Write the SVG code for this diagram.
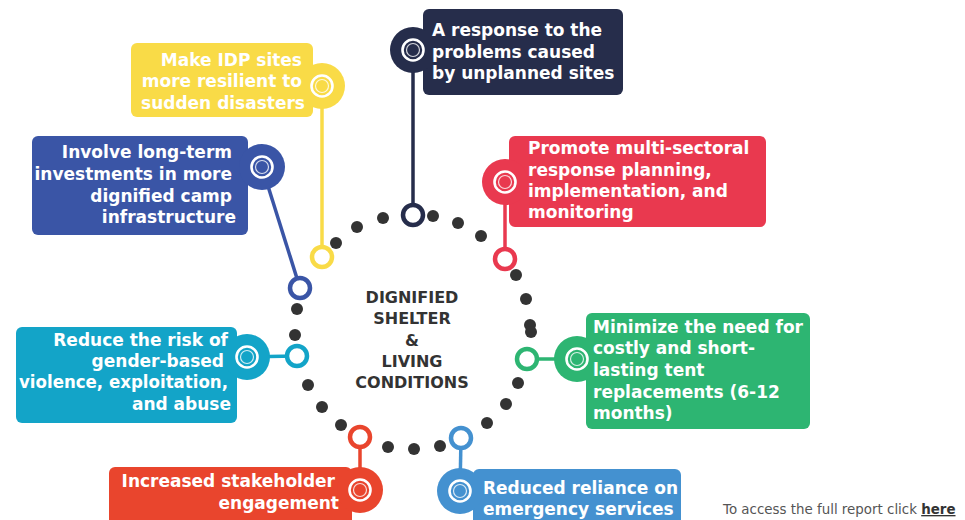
<svg xmlns="http://www.w3.org/2000/svg" width="965" height="520" viewBox="0 0 965 520">
<style>
.t{font-family:"DejaVu Sans","Liberation Sans",sans-serif;font-weight:bold;font-size:17px;fill:#ffffff}
.e{text-anchor:end}
.c{font-family:"DejaVu Sans","Liberation Sans",sans-serif;font-weight:bold;font-size:16px;fill:#333333;text-anchor:middle}
.dot{fill:#333333}
.ring{fill:#ffffff;stroke-width:4.5}
.link{stroke-width:3.5;fill:none}
.tr{fill:none;stroke:#ffffff;stroke-width:2.6}
.ti{fill:none;stroke:#ffffff;stroke-width:1.2;stroke-opacity:0.8}
.f{font-family:"DejaVu Sans","Verdana",sans-serif;font-size:13.4px;fill:#555555}
</style>
<rect width="965" height="520" fill="#ffffff"/>
<g id="dots">
<circle class="dot" cx="383" cy="218" r="6"/>
<circle class="dot" cx="433" cy="216" r="6"/>
<circle class="dot" cx="458" cy="223" r="6"/>
<circle class="dot" cx="481" cy="236" r="6"/>
<circle class="dot" cx="516" cy="275" r="6"/>
<circle class="dot" cx="526" cy="299" r="6"/>
<circle class="dot" cx="530" cy="325" r="6"/>
<circle class="dot" cx="531" cy="332" r="6"/>
<circle class="dot" cx="518" cy="383" r="6"/>
<circle class="dot" cx="506" cy="404" r="6"/>
<circle class="dot" cx="487" cy="423" r="6"/>
<circle class="dot" cx="440" cy="446" r="6"/>
<circle class="dot" cx="414" cy="449" r="6"/>
<circle class="dot" cx="388" cy="447" r="6"/>
<circle class="dot" cx="341" cy="425" r="6"/>
<circle class="dot" cx="322" cy="407" r="6"/>
<circle class="dot" cx="308" cy="385" r="6"/>
<circle class="dot" cx="295" cy="335" r="6"/>
<circle class="dot" cx="297" cy="309" r="6"/>
<circle class="dot" cx="336" cy="243" r="6"/>
<circle class="dot" cx="357" cy="227" r="6"/>
</g>
<g id="connectors">
<line class="link" x1="413" y1="50" x2="413" y2="215" stroke="#262d4b"/>
<line class="link" x1="322" y1="86" x2="322" y2="257" stroke="#f9db47"/>
<line class="link" x1="262" y1="167" x2="300" y2="288" stroke="#3a55a6"/>
<line class="link" x1="505" y1="182" x2="505" y2="259" stroke="#e9394f"/>
<line class="link" x1="247" y1="357" x2="297" y2="356" stroke="#13a4c8"/>
<line class="link" x1="527" y1="359" x2="577" y2="359" stroke="#2db572"/>
<line class="link" x1="360" y1="437" x2="360" y2="490" stroke="#e9452d"/>
<line class="link" x1="461" y1="438" x2="460" y2="491" stroke="#4491d0"/>
</g>
<g id="center">
<text class="c" x="412" y="303">DIGNIFIED</text>
<text class="c" x="412" y="324">SHELTER</text>
<text class="c" x="412" y="346">&amp;</text>
<text class="c" x="412" y="367">LIVING</text>
<text class="c" x="412" y="388">CONDITIONS</text>
</g>
<g id="node-response">
<rect x="423" y="9" width="200" height="86" rx="6" fill="#262d4b"/>
<circle cx="413" cy="50" r="23" fill="#262d4b"/>
<circle class="tr" cx="413" cy="50" r="10.5"/>
<circle class="ti" cx="413" cy="50" r="6.5"/>
<circle class="ring" cx="413" cy="215" r="10" stroke="#262d4b"/>
<text class="t" x="432" y="36">A response to the</text>
<text class="t" x="432" y="58">problems caused</text>
<text class="t" x="432" y="79">by unplanned sites</text>
</g>
<g id="node-resilient">
<rect x="131" y="43" width="182" height="74" rx="6" fill="#f9db47"/>
<circle cx="322" cy="86" r="23" fill="#f9db47"/>
<circle class="tr" cx="322" cy="86" r="10.5"/>
<circle class="ti" cx="322" cy="86" r="6.5"/>
<circle class="ring" cx="322" cy="257" r="10" stroke="#f9db47"/>
<text class="t e" x="302" y="66">Make IDP sites</text>
<text class="t e" x="302" y="87">more resilient to</text>
<text class="t e" x="305" y="109">sudden disasters</text>
</g>
<g id="node-invest">
<rect x="32" y="136" width="216" height="99" rx="6" fill="#3a55a6"/>
<circle cx="262" cy="167" r="23" fill="#3a55a6"/>
<circle class="tr" cx="262" cy="167" r="10.5"/>
<circle class="ti" cx="262" cy="167" r="6.5"/>
<circle class="ring" cx="300" cy="288" r="10" stroke="#3a55a6"/>
<text class="t e" x="232" y="158">Involve long-term</text>
<text class="t e" x="232" y="180">investments in more</text>
<text class="t e" x="232" y="202">dignified camp</text>
<text class="t e" x="236" y="223">infrastructure</text>
</g>
<g id="node-promote">
<rect x="509" y="136" width="257" height="91" rx="6" fill="#e9394f"/>
<circle cx="505" cy="182" r="23" fill="#e9394f"/>
<circle class="tr" cx="505" cy="182" r="10.5"/>
<circle class="ti" cx="505" cy="182" r="6.5"/>
<circle class="ring" cx="505" cy="259" r="10" stroke="#e9394f"/>
<text class="t" x="528" y="154">Promote multi-sectoral</text>
<text class="t" x="528" y="176">response planning,</text>
<text class="t" x="528" y="197">implementation, and</text>
<text class="t" x="528" y="218">monitoring</text>
</g>
<g id="node-gbv">
<rect x="16" y="327" width="221" height="96" rx="6" fill="#13a4c8"/>
<circle cx="247" cy="357" r="23" fill="#13a4c8"/>
<circle class="tr" cx="247" cy="357" r="10.5"/>
<circle class="ti" cx="247" cy="357" r="6.5"/>
<circle class="ring" cx="297" cy="356" r="10" stroke="#13a4c8"/>
<text class="t e" x="228" y="346">Reduce the risk of</text>
<text class="t e" x="224" y="367">gender-based</text>
<text class="t e" x="228" y="388" textLength="209" lengthAdjust="spacingAndGlyphs">violence, exploitation,</text>
<text class="t e" x="231" y="410">and abuse</text>
</g>
<g id="node-tent">
<rect x="586" y="313" width="224" height="116" rx="6" fill="#2db572"/>
<circle cx="577" cy="359" r="23" fill="#2db572"/>
<circle class="tr" cx="577" cy="359" r="10.5"/>
<circle class="ti" cx="577" cy="359" r="6.5"/>
<circle class="ring" cx="527" cy="359" r="10" stroke="#2db572"/>
<text class="t" x="593" y="333">Minimize the need for</text>
<text class="t" x="593" y="354">costly and short-</text>
<text class="t" x="593" y="376">lasting tent</text>
<text class="t" x="593" y="398">replacements (6-12</text>
<text class="t" x="593" y="419">months)</text>
</g>
<g id="node-stakeholder">
<rect x="109" y="467" width="243" height="60" rx="6" fill="#e9452d"/>
<circle cx="360" cy="490" r="23" fill="#e9452d"/>
<circle class="tr" cx="360" cy="490" r="10.5"/>
<circle class="ti" cx="360" cy="490" r="6.5"/>
<circle class="ring" cx="360" cy="437" r="10" stroke="#e9452d"/>
<text class="t e" x="335" y="487">Increased stakeholder</text>
<text class="t e" x="339" y="509">engagement</text>
</g>
<g id="node-emergency">
<rect x="473" y="469" width="208" height="60" rx="6" fill="#4491d0"/>
<circle cx="460" cy="491" r="23" fill="#4491d0"/>
<circle class="tr" cx="460" cy="491" r="10.5"/>
<circle class="ti" cx="460" cy="491" r="6.5"/>
<circle class="ring" cx="461" cy="438" r="10" stroke="#4491d0"/>
<text class="t" x="483" y="494">Reduced reliance on</text>
<text class="t" x="483" y="515">emergency services</text>
</g>
<g id="footer">
<text class="f" x="723" y="514">To access the full report click <tspan font-weight="bold" fill="#333333" text-decoration="underline">here</tspan></text>
</g>
</svg>
